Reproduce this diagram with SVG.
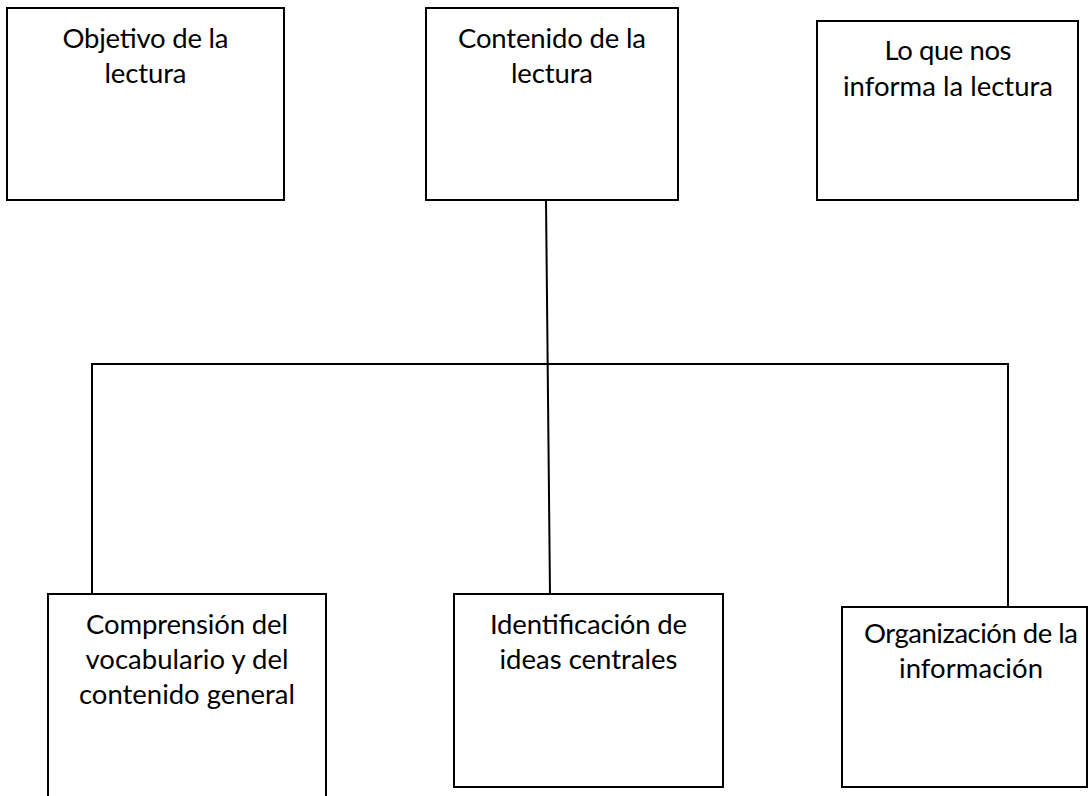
<svg xmlns="http://www.w3.org/2000/svg" width="1091" height="796" viewBox="0 0 1091 796">
<style>
.box{fill:#fff;stroke:#000;stroke-width:2}
.conn{fill:none;stroke:#000;stroke-width:2}
text{font-family:Lato,"Open Sans","Liberation Sans",sans-serif;font-size:27.5px;fill:#000;text-anchor:middle}
</style>
<rect width="1091" height="796" fill="#fff"/>
<g id="connectors">
<line class="conn" x1="546" y1="200" x2="550" y2="594"/>
<polyline class="conn" points="92,594 92,364 1008,364 1008,607"/>
</g>
<g id="n-objetivo">
<rect class="box" x="7" y="8" width="277" height="192"/>
<text x="145.5" y="47.5" textLength="166">Objetivo de la</text>
<text x="145.5" y="83" textLength="82">lectura</text>
</g>
<g id="n-contenido">
<rect class="box" x="426" y="8" width="252" height="192"/>
<text x="552" y="47.5" textLength="188">Contenido de la</text>
<text x="552" y="83" textLength="82">lectura</text>
</g>
<g id="n-informa">
<rect class="box" x="817" y="21" width="261" height="179"/>
<text x="948" y="60" textLength="127">Lo que nos</text>
<text x="948" y="95.5" textLength="210">informa la lectura</text>
</g>
<g id="n-comprension">
<rect class="box" x="48" y="594" width="278" height="210"/>
<text x="187" y="634" textLength="202">Comprensión del</text>
<text x="187" y="669" textLength="203">vocabulario y del</text>
<text x="187" y="704" textLength="216">contenido general</text>
</g>
<g id="n-identificacion">
<rect class="box" x="454" y="594" width="269" height="193"/>
<text x="588.5" y="634" textLength="197">Identificación de</text>
<text x="588.5" y="669" textLength="178">ideas centrales</text>
</g>
<g id="n-organizacion">
<rect class="box" x="842" y="607" width="245" height="180"/>
<text x="971" y="643" textLength="214">Organización de la</text>
<text x="971" y="678" textLength="144">información</text>
</g>
</svg>
